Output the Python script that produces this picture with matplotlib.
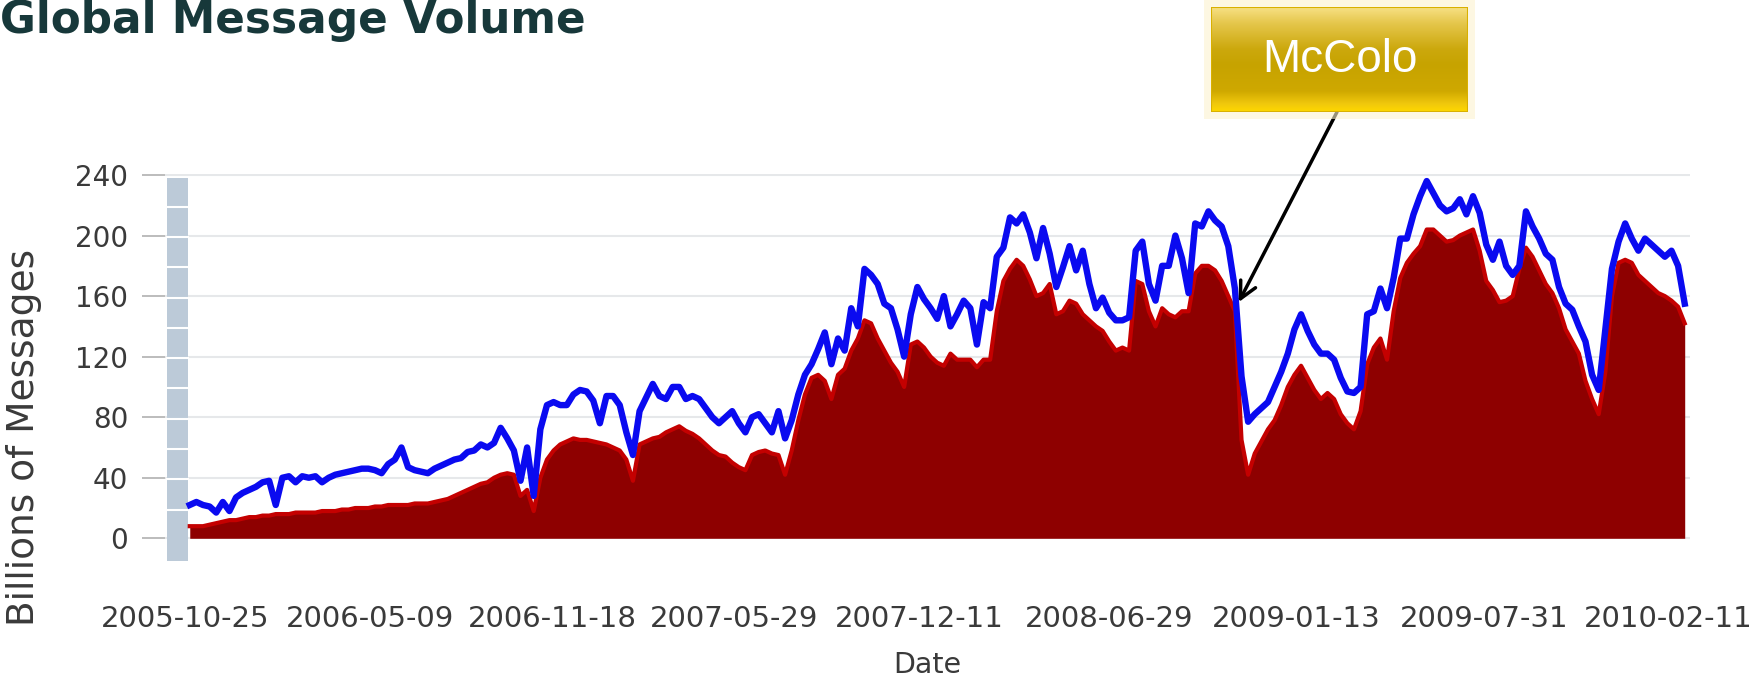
import numpy as np
import pandas as pd
import matplotlib
matplotlib.use("Agg")
import matplotlib.pyplot as plt
import matplotlib.dates as mdates
from matplotlib.patches import Rectangle

# weekly readings, billions of messages/day
start = "2005-10-30"
total = [22, 24, 22, 21, 17, 24, 18, 27, 30, 32, 34, 37, 38, 22, 40, 41, 37, 41, 40, 41,
         37, 40, 42, 43, 44, 45, 46, 46, 45, 43, 49, 52, 60, 47, 45, 44, 43, 46, 48, 50,
         52, 53, 57, 58, 62, 60, 63, 73, 66, 58, 38, 60, 28, 72, 88, 90, 88, 88, 95, 98,
         97, 91, 76, 94, 94, 88, 70, 55, 84, 93, 102, 94, 92, 100, 100, 92, 94, 92, 86, 80,
         76, 80, 84, 76, 70, 80, 82, 76, 70, 84, 66, 78, 95, 108, 115, 125, 136, 115, 132, 124,
         152, 140, 178, 174, 168, 155, 152, 138, 120, 148, 166, 158, 152, 145, 160, 140, 148, 157, 152, 128,
         156, 152, 186, 192, 212, 208, 214, 202, 185, 205, 188, 166, 179, 193, 177, 190, 168, 152, 159, 149,
         144, 144, 146, 190, 196, 168, 157, 180, 180, 200, 185, 162, 208, 206, 216, 210, 206, 193, 165, 107,
         77, 82, 86, 90, 100, 110, 122, 138, 148, 137, 128, 122, 122, 118, 106, 97, 96, 100, 148, 150,
         165, 152, 172, 198, 198, 214, 226, 236, 228, 220, 216, 218, 224, 214, 226, 215, 194, 184, 196, 180,
         174, 180, 216, 206, 198, 188, 184, 166, 155, 151, 140, 130, 108, 98, 138, 178, 196, 208, 198, 190,
         198, 194, 190, 186, 190, 180, 155]
spam = [8, 8, 8, 9, 10, 11, 12, 12, 13, 14, 14, 15, 15, 16, 16, 16, 17, 17, 17, 17,
        18, 18, 18, 19, 19, 20, 20, 20, 21, 21, 22, 22, 22, 22, 23, 23, 23, 24, 25, 26,
        28, 30, 32, 34, 36, 37, 40, 42, 43, 42, 28, 32, 18, 40, 52, 58, 62, 64, 66, 65,
        65, 64, 63, 62, 60, 58, 52, 38, 62, 64, 66, 67, 70, 72, 74, 71, 69, 66, 62, 58,
        55, 54, 50, 47, 45, 55, 57, 58, 56, 55, 42, 58, 78, 95, 106, 108, 104, 92, 108, 112,
        124, 132, 144, 142, 132, 124, 116, 110, 100, 128, 130, 126, 120, 116, 114, 122, 118, 118, 118, 113,
        118, 118, 150, 170, 178, 184, 180, 171, 160, 162, 168, 148, 150, 157, 155, 148, 144, 140, 137, 130,
        124, 126, 124, 170, 168, 150, 140, 152, 148, 146, 150, 150, 175, 180, 180, 177, 170, 160, 150, 65,
        42, 56, 64, 72, 78, 88, 100, 108, 114, 106, 98, 92, 96, 92, 82, 76, 72, 84, 115, 126,
        132, 118, 150, 172, 182, 188, 193, 204, 204, 200, 196, 197, 200, 202, 204, 190, 170, 164, 156, 157,
        160, 178, 192, 186, 177, 168, 162, 152, 138, 130, 122, 104, 92, 82, 110, 160, 182, 184, 182, 174,
        170, 166, 162, 160, 157, 153, 142]
tick_dates = ["2005-10-25", "2006-05-09", "2006-11-18", "2007-05-29", "2007-12-11",
              "2008-06-29", "2009-01-13", "2009-07-31", "2010-02-11"]
yticks = [0, 40, 80, 120, 160, 200, 240]

dates = pd.date_range(start, periods=len(total), freq="7D")
x = mdates.date2num(dates)
base = mdates.date2num(pd.Timestamp("2005-10-25"))

W, H = 1762, 678
fig = plt.figure(figsize=(W / 100, H / 100), dpi=100)
ax = fig.add_axes([165 / W, 1 - 561 / H, 1525 / W, 387.5 / H])

ax.set_xlim(base - 21.2, base + 1592.6)
ax.set_ylim(-15, 241)

for v in yticks:
    ax.axhline(v, color="#e6e8ea", lw=1.5, zorder=0)

ax.fill_between(x, 0, spam, color="#8e0000", lw=0, zorder=2)
ax.plot(x, spam, color="#c40000", lw=3, zorder=3)
ax.plot(x, total, color="#0a0af0", lw=4.6, zorder=4)

# grey band at the left of the plot
bx0, bx1 = base - 19, base + 3
ax.add_patch(Rectangle((bx0, -15), bx1 - bx0, 253, color="#bccad8", lw=0, zorder=1))
for v in range(20, 240, 20):
    ax.plot([bx0, bx1], [v - 1, v - 1], color="white", lw=1.5, zorder=1.5)

for s in ax.spines.values():
    s.set_visible(False)

ax.set_yticks(yticks)
ax.set_yticklabels([str(v) for v in yticks])
ax.tick_params(axis="y", length=16.5, width=1.2, color="#b0b0b0", pad=10,
               labelsize=20, labelcolor="#3a3a3a")
ax.set_xticks([mdates.date2num(pd.Timestamp(d)) for d in tick_dates])
ax.set_xticklabels(tick_dates)
ax.tick_params(axis="x", length=0, pad=32, labelsize=21, labelcolor="#3a3a3a")

fig.text(927 / W, 1 - 665 / H, "Date", ha="center", va="center", fontsize=20.5, color="#3a3a3a")
fig.text(24 / W, 1 - 437 / H, "Billions of Messages", ha="center", va="center",
         rotation=90, fontsize=27, color="#3a3a3a")
fig.text(0.0, 1 - 33 / H, "Global Message Volume", ha="left", va="baseline",
         fontsize=31.5, fontweight="bold", color="#17383a")

# McColo callout box
glow = fig.add_axes([1204 / W, 1 - 119 / H, 271 / W, 119 / H])
glow.add_patch(Rectangle((0, 0), 1, 1, color="#fdf3cf", alpha=0.6, lw=0))
glow.set_xlim(0, 1)
glow.set_ylim(0, 1)
glow.axis("off")
bax = fig.add_axes([1211 / W, 1 - 112 / H, 257 / W, 105 / H])
grad_pos = [0.0, 0.08, 0.2, 0.45, 0.6, 0.85, 1.0]
grad_col = [(1.0, 0.85, 0.0), (0.94, 0.78, 0.05), (0.81, 0.66, 0.0), (0.78, 0.64, 0.0),
            (0.80, 0.66, 0.05), (0.90, 0.78, 0.30), (0.97, 0.88, 0.52)]
yy = np.linspace(0, 1, 200)
img = np.array([[np.interp(t, grad_pos, [c[i] for c in grad_col]) for i in range(3)] for t in yy])
bax.imshow(img[:, None, :], aspect="auto", origin="lower", extent=(0, 1, 0, 1))
bax.add_patch(Rectangle((0, 0), 1, 1, fill=False, edgecolor="#d9b000", lw=1.5))
bax.set_xlim(0, 1)
bax.set_ylim(0, 1)
bax.axis("off")
bax.text(0.5, 0.5, "McColo", ha="center", va="center", color="white",
         fontsize=33, family="Liberation Sans")

ax.annotate("", xy=(mdates.date2num(pd.Timestamp("2008-11-13")), 156),
            xytext=(1337 / W, 1 - 112 / H), textcoords="figure fraction",
            arrowprops=dict(arrowstyle="->", color="black", lw=2.5, mutation_scale=30,
                            shrinkA=0, shrinkB=0), zorder=6)

fig.savefig("out.png", dpi=100)
